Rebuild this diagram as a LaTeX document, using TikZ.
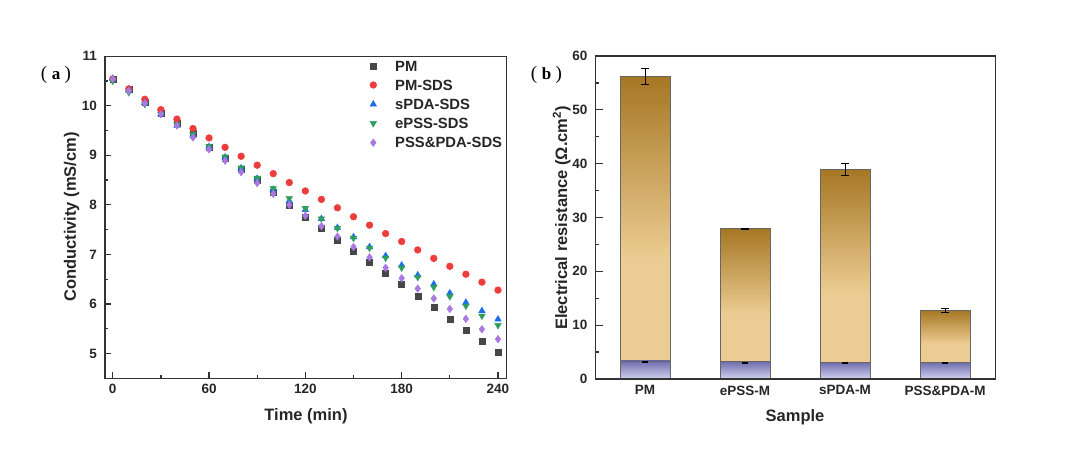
\documentclass[tikz,border=0pt]{standalone}
\usepackage{fontspec}
\setmainfont{Liberation Sans}
\newfontfamily\serifb{Liberation Serif}
\usetikzlibrary{plotmarks}
\definecolor{cgray}{HTML}{474747}
\definecolor{cred}{HTML}{EE3B3B}
\definecolor{cblue}{HTML}{1A6FE8}
\definecolor{cgreen}{HTML}{2E9E5E}
\definecolor{cpurple}{HTML}{A978E0}
\definecolor{axcol}{HTML}{333333}
\definecolor{tanl}{HTML}{ECCC92}
\definecolor{brownd}{HTML}{A67724}
\definecolor{bluet}{HTML}{6E6EAE}
\definecolor{blueb}{HTML}{D2D2F0}
\pgfdeclareverticalshading{brownsh}{100bp}{color(0bp)=(tanl); color(25bp)=(tanl); color(43bp)=(tanl); color(75bp)=(brownd); color(100bp)=(brownd)}
\tikzset{
  axisline/.style={draw=axcol, line width=1.3pt},
  ticklab/.style={font=\fontsize{13.5}{14}\selectfont\bfseries, text=black!85, inner sep=0pt},
  axtitle/.style={font=\fontsize{16.5}{18}\selectfont\bfseries, text=black!85, inner sep=0pt},
  legtext/.style={font=\fontsize{14.8}{16}\selectfont\bfseries, text=black!85, inner sep=0pt, anchor=west},
  panel/.style={font=\serifb\fontsize{19}{20}\selectfont, inner sep=0pt},
  barline/.style={draw=black!60, line width=0.8pt},
  errbar/.style={draw=black, line width=1pt},
  mkgray/.style={only marks, mark=square*, mark size=3pt, mark options={draw=cgray, fill=cgray}},
  mkred/.style={only marks, mark=*, mark size=3.4pt, mark options={draw=cred, fill=cred}},
  mkblue/.style={only marks, mark=triangle*, mark size=3.8pt, mark options={draw=cblue, fill=cblue}},
  mkgreen/.style={only marks, mark=triangle*, mark size=3.8pt, mark options={draw=cgreen, fill=cgreen, rotate=180}},
  mkpurple/.style={only marks, mark=diamond*, mark size=3.8pt, mark options={draw=cpurple, fill=cpurple}},
}
\begin{document}
\begin{tikzpicture}[x=1pt,y=1pt]
\useasboundingbox[fill=white] (0,0) rectangle (1080,455);
% ---------------- panel (a) ----------------
\node[panel] (la) at (56,380) {(\hspace{4.5pt}{\fontsize{17}{18}\selectfont\bfseries a}\hspace{4.5pt})};
\begin{scope}[shift={(112.7,-146.32)}, x=1.6054pt, y=49.56pt]
  \coordinate (a0) at (-4.8,4.5);
  \coordinate (a1) at (245.4,11);
  % data
  \draw plot[mkgray] coordinates {(0,10.54)(10,10.33)(20,10.08)(30,9.85)(40,9.65)(50,9.45)(60,9.17)(70,8.95)(80,8.72)(90,8.50)(100,8.26)(110,7.99)(120,7.76)(130,7.52)(140,7.28)(150,7.07)(160,6.84)(170,6.62)(180,6.40)(190,6.16)(200,5.93)(210,5.70)(220,5.47)(230,5.24)(240,5.02)};
  \draw plot[mkred] coordinates {(0,10.54)(10,10.34)(20,10.13)(30,9.92)(40,9.73)(50,9.54)(60,9.35)(70,9.16)(80,8.98)(90,8.80)(100,8.63)(110,8.45)(120,8.28)(130,8.11)(140,7.94)(150,7.76)(160,7.59)(170,7.42)(180,7.26)(190,7.09)(200,6.92)(210,6.76)(220,6.60)(230,6.44)(240,6.28)};
  \draw plot[mkblue] coordinates {(0,10.55)(10,10.31)(20,10.06)(30,9.83)(40,9.60)(50,9.40)(60,9.17)(70,8.96)(80,8.74)(90,8.53)(100,8.31)(110,8.08)(120,7.90)(130,7.72)(140,7.54)(150,7.35)(160,7.15)(170,6.97)(180,6.78)(190,6.58)(200,6.40)(210,6.22)(220,6.03)(230,5.86)(240,5.69)};
  \draw plot[mkgreen] coordinates {(0,10.50)(10,10.27)(20,10.03)(30,9.83)(40,9.62)(50,9.42)(60,9.18)(70,8.97)(80,8.75)(90,8.54)(100,8.33)(110,8.13)(120,7.93)(130,7.72)(140,7.53)(150,7.33)(160,7.13)(170,6.93)(180,6.73)(190,6.54)(200,6.34)(210,6.15)(220,5.96)(230,5.76)(240,5.57)};
  \draw plot[mkpurple] coordinates {(0,10.54)(10,10.30)(20,10.05)(30,9.83)(40,9.60)(50,9.36)(60,9.12)(70,8.89)(80,8.66)(90,8.44)(100,8.22)(110,8.00)(120,7.78)(130,7.57)(140,7.36)(150,7.15)(160,6.94)(170,6.73)(180,6.52)(190,6.31)(200,6.11)(210,5.90)(220,5.70)(230,5.49)(240,5.29)};
  % axes
  \draw[axisline] (a0) rectangle (a1);
  \foreach \t in {0,60,...,240} {
    \draw[axisline] (\t,4.5) -- ++(0pt,6pt);
    \node[ticklab, anchor=north] (xt\t) at ([yshift=-6pt]\t,4.5) {\t};
  }
  \foreach \t in {30,90,...,210} \draw[axisline] (\t,4.5) -- ++(0pt,3.5pt);
  \foreach \v in {5,...,11} {
    \draw[axisline] (-4.8,\v) -- ++(6pt,0pt);
    \node[ticklab, anchor=east] (yt\v) at ([xshift=-8pt]-4.8,\v) {\v};
  }
  \foreach \v in {5.5,6.5,...,10.5} \draw[axisline] (-4.8,\v) -- ++(3.5pt,0pt);
\end{scope}
\node[axtitle, rotate=90] (ya) at (71.7,238) {Conductivity (mS/cm)};
\node[axtitle] (xa) at (306,38.3) {Time (min)};
% legend
\draw plot[mkgray] coordinates {(373.3,389)};
\draw plot[mkred] coordinates {(373.3,370)};
\draw plot[mkblue] coordinates {(373.3,350.7)};
\draw plot[mkgreen] coordinates {(373.3,331.7)};
\draw plot[mkpurple] coordinates {(373.3,312.3)};
\node[legtext] (l1) at (395,389) {PM};
\node[legtext] (l2) at (395,370) {PM-SDS};
\node[legtext] (l3) at (395,350.7) {sPDA-SDS};
\node[legtext] (l4) at (395,331.7) {ePSS-SDS};
\node[legtext] (l5) at (395,312.3) {PSS\&PDA-SDS};
% ---------------- panel (b) ----------------
\node[panel] (lb) at (546.5,380) {(\hspace{4.5pt}{\fontsize{17}{18}\selectfont\bfseries b}\hspace{4.5pt})};
\begin{scope}[shift={(545,76)}, x=100pt, y=5.383pt]
  \coordinate (b0) at (0.507,0);
  \coordinate (b1) at (4.507,60);
  \foreach \i/\v/\l/\ea/\eb/\nm in {1/56.2/3.35/54.8/57.7/PM, 2/27.9/3.25/27.82/27.98/ePSS-M, 3/38.9/3.15/37.8/39.95/sPDA-M, 4/12.75/3.15/12.4/13.05/PSS\&PDA-M} {
    \shade[shading=brownsh] (\i-0.25,\l) rectangle (\i+0.25,\v);
    \shade[top color=bluet, bottom color=blueb] (\i-0.25,0) rectangle (\i+0.25,\l);
    \draw[barline] (\i-0.25,0) rectangle (\i+0.25,\v);
    \draw[barline] (\i-0.25,\l) -- (\i+0.25,\l);
    \draw[errbar] (\i,\ea) -- (\i,\eb);
    \draw[errbar] ([xshift=-4pt]\i,\ea) -- ([xshift=4pt]\i,\ea);
    \draw[errbar] ([xshift=-4pt]\i,\eb) -- ([xshift=4pt]\i,\eb);
    \draw[errbar] ([xshift=-3pt]\i,\l-0.15) -- ([xshift=3pt]\i,\l-0.15);
    \draw[errbar] ([xshift=-3pt]\i,\l-0.3) -- ([xshift=3pt]\i,\l-0.3);
    \node[ticklab, anchor=north] (bx\i) at ([yshift=-6.5pt]\i,0) {\nm};
  }
  \draw[axisline] (b0) rectangle (b1);
  \foreach \v in {0,10,...,60} {
    \draw[axisline] (0.507,\v) -- ++(7pt,0pt);
    \node[ticklab, anchor=east] (by\v) at ([xshift=-8pt]0.507,\v) {\v};
  }
  \foreach \v in {5,15,...,55} \draw[axisline] (0.507,\v) -- ++(3.5pt,0pt);
\end{scope}
\node[axtitle, rotate=90] (yb) at (561.7,237) {Electrical resistance (Ω.cm\textsuperscript{2})};
\node[axtitle] (xb) at (795,37.7) {Sample};
\end{tikzpicture}
\end{document}
